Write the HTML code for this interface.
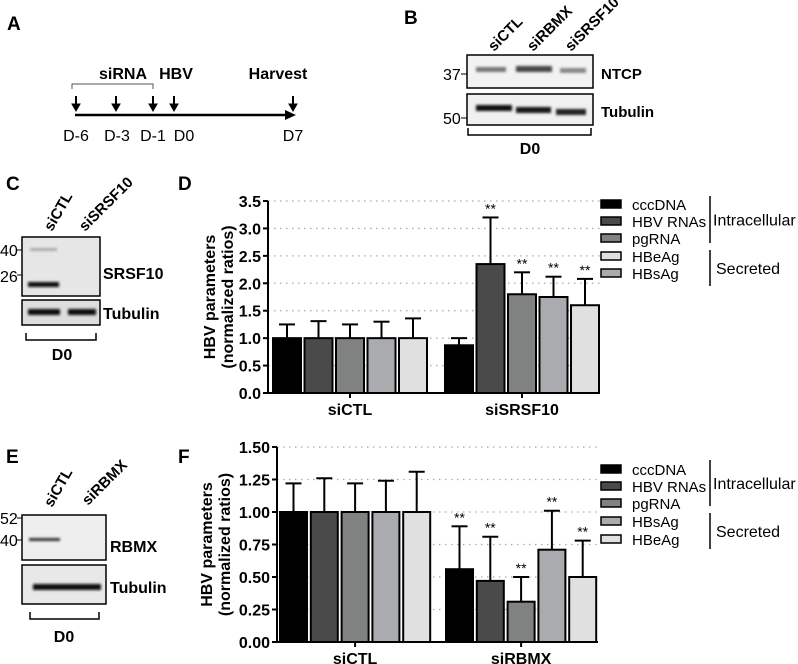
<!DOCTYPE html>
<html><head><meta charset="utf-8"><style>
body{margin:0;background:#fff}
svg{display:block;font-family:"Liberation Sans",Arial,sans-serif}
.b{font-weight:bold}
</style></head><body>
<svg id="fig" width="798" height="664" viewBox="0 0 798 664">
<defs><filter id="blur"><feGaussianBlur stdDeviation="1.2"/></filter></defs>
<g>
<text x="7" y="30" class="b" font-size="19">A</text>
<text x="123" y="79" class="b" font-size="16" text-anchor="middle">siRNA</text>
<text x="176" y="79" class="b" font-size="16" text-anchor="middle">HBV</text>
<text x="278" y="79" class="b" font-size="16" text-anchor="middle">Harvest</text>
<path d="M72 89 V84 H153 V89" fill="none" stroke="#555" stroke-width="1"/>
<line x1="75" y1="115" x2="287" y2="115" stroke="#000" stroke-width="2.5"/>
<polygon points="285,110 296,115 285,120" fill="#000"/>
<g fill="#000" stroke="#000">
<line x1="76" y1="96" x2="76" y2="106" stroke-width="2"/><polygon points="72,104 80,104 76,111"/>
<line x1="116" y1="96" x2="116" y2="106" stroke-width="2"/><polygon points="112,104 120,104 116,111"/>
<line x1="153" y1="96" x2="153" y2="106" stroke-width="2"/><polygon points="149,104 157,104 153,111"/>
<line x1="174" y1="96" x2="174" y2="106" stroke-width="2"/><polygon points="170,104 178,104 174,111"/>
<line x1="293" y1="96" x2="293" y2="106" stroke-width="2"/><polygon points="289,104 297,104 293,111"/>
</g>
<g font-size="16">
<text x="76" y="141" text-anchor="middle">D-6</text>
<text x="117" y="141" text-anchor="middle">D-3</text>
<text x="153" y="141" text-anchor="middle">D-1</text>
<text x="184" y="141" text-anchor="middle">D0</text>
<text x="293" y="141" text-anchor="middle">D7</text>
</g>
</g>
<g>
<text x="404" y="24" class="b" font-size="19">B</text>
<g class="b" font-size="15">
<text transform="translate(494,52) rotate(-45)">siCTL</text>
<text transform="translate(533,52) rotate(-45)">siRBMX</text>
<text transform="translate(571,52) rotate(-45)">siSRSF10</text>
</g>
<rect x="467" y="55" width="126" height="33" fill="#f2f2f2" stroke="#000" stroke-width="1.5"/>
<rect x="467" y="94" width="126" height="31" fill="#f0f0f0" stroke="#000" stroke-width="1.5"/>
<g filter="url(#blur)">
<rect x="476" y="67" width="30" height="5" fill="#777"/>
<rect x="516" y="66" width="36" height="6" fill="#444"/>
<rect x="560" y="68" width="26" height="5" fill="#888"/>
<rect x="476" y="105" width="36" height="6" fill="#111"/>
<rect x="516" y="107" width="35" height="6" fill="#151515"/>
<rect x="556" y="109" width="30" height="6" fill="#222"/>
</g>
<text x="443" y="80" font-size="16">37</text><line x1="461" y1="74" x2="467" y2="74" stroke="#000"/>
<text x="443" y="124" font-size="16">50</text><line x1="461" y1="118" x2="467" y2="118" stroke="#000"/>
<text x="601" y="79" class="b" font-size="15">NTCP</text>
<text x="601" y="117" class="b" font-size="15">Tubulin</text>
<path d="M468 128 V135 H591 V128" fill="none" stroke="#000" stroke-width="1.5"/>
<text x="530" y="154" class="b" font-size="16" text-anchor="middle">D0</text>
</g>
<g>
<text x="6" y="190" class="b" font-size="19">C</text>
<g class="b" font-size="15">
<text transform="translate(52,232) rotate(-60)">siCTL</text>
<text transform="translate(85,232) rotate(-45)">siSRSF10</text>
</g>
<rect x="22" y="237" width="78" height="59" fill="#e6e6e6" stroke="#000" stroke-width="1.5"/>
<rect x="22" y="300" width="78" height="25" fill="#ddd" stroke="#000" stroke-width="1.5"/>
<g filter="url(#blur)">
<rect x="30" y="248" width="27" height="3" fill="#aaa"/>
<rect x="28" y="282" width="31" height="5" fill="#111"/>
<rect x="28" y="309" width="32" height="6" fill="#111"/>
<rect x="68" y="309" width="28" height="6" fill="#111"/>
</g>
<text x="0" y="256" font-size="16">40</text><line x1="17" y1="250" x2="22" y2="250" stroke="#000"/>
<text x="0" y="282" font-size="16">26</text><line x1="17" y1="275" x2="22" y2="275" stroke="#000"/>
<text x="103" y="279" class="b" font-size="16">SRSF10</text>
<text x="103" y="319" class="b" font-size="16">Tubulin</text>
<path d="M26 333 V340 H96 V333" fill="none" stroke="#000" stroke-width="1.5"/>
<text x="62" y="360" class="b" font-size="16" text-anchor="middle">D0</text>
</g>
<g>
<text x="6" y="463" class="b" font-size="19">E</text>
<g class="b" font-size="15">
<text transform="translate(52,508) rotate(-60)">siCTL</text>
<text transform="translate(88,506) rotate(-45)">siRBMX</text>
</g>
<rect x="22" y="515" width="84" height="45" fill="#eee" stroke="#000" stroke-width="1.5"/>
<rect x="22" y="565" width="84" height="39" fill="#e8e8e8" stroke="#000" stroke-width="1.5"/>
<g filter="url(#blur)">
<rect x="29" y="538" width="31" height="3" fill="#333"/>
<rect x="33" y="584" width="37" height="6" fill="#111"/>
<rect x="70" y="584" width="31" height="6" fill="#111"/>
</g>
<text x="0" y="524" font-size="16">52</text><line x1="17" y1="518" x2="22" y2="518" stroke="#000"/>
<text x="0" y="546" font-size="16">40</text><line x1="17" y1="540" x2="22" y2="540" stroke="#000"/>
<text x="110" y="552" class="b" font-size="16">RBMX</text>
<text x="110" y="593" class="b" font-size="16">Tubulin</text>
<path d="M30 612 V619 H99 V612" fill="none" stroke="#000" stroke-width="1.5"/>
<text x="64" y="642" class="b" font-size="16" text-anchor="middle">D0</text>
</g>
<text x="178" y="190" class="b" font-size="19">D</text>
<text x="178" y="463" class="b" font-size="19">F</text>
<g id="chartD"></g>
<g id="chartF"></g>
</svg>
<script>
const groupsD = ["siCTL", "siSRSF10"];
const seriesD = ["cccDNA", "HBV RNAs", "pgRNA", "HBeAg", "HBsAg"];
const valuesD = [[1,1,1,1,1],[0.87,2.35,1.8,1.75,1.6]];
const errorsD = [[1.25,1.31,1.25,1.3,1.36],[1.0,3.2,2.2,2.12,2.08]];
const starsD = [[0,0,0,0,0],[0,1,1,1,1]];
const ticksD = ["0.0","0.5","1.0","1.5","2.0","2.5","3.0","3.5"];

const groupsF = ["siCTL", "siRBMX"];
const seriesF = ["cccDNA", "HBV RNAs", "pgRNA", "HBsAg", "HBeAg"];
const valuesF = [[1,1,1,1,1],[0.56,0.47,0.31,0.71,0.5]];
const errorsF = [[1.22,1.26,1.22,1.24,1.31],[0.89,0.81,0.5,1.01,0.78]];
const starsF = [[0,0,0,0,0],[1,1,1,1,1]];
const ticksF = ["0.00","0.25","0.50","0.75","1.00","1.25","1.50"];

const NS="http://www.w3.org/2000/svg";
function mk(parent,tag,attrs,txt){const e=document.createElementNS(NS,tag);for(const k in attrs)e.setAttribute(k,attrs[k]);if(txt!=null)e.textContent=txt;parent.appendChild(e);return e;}

function drawChart(g,cfg){
  const yScale=v=>cfg.y0-(v/cfg.ymax)*(cfg.y0-cfg.y1);
  cfg.ticks.forEach(t=>{
    const y=yScale(parseFloat(t));
    if(parseFloat(t)>0){const gl=mk(g,"line",{x1:cfg.ax,x2:cfg.xEnd,y1:y,y2:y,stroke:"#aaa","stroke-width":1.3,"stroke-dasharray":"1.5 4.5"});
    
    }
    mk(g,"line",{x1:cfg.ax-5,x2:cfg.ax,y1:y,y2:y,stroke:"#000","stroke-width":2});
    const tl=mk(g,"text",{x:cfg.ax-7,y:y+6,"text-anchor":"end","font-size":16,"font-weight":"bold"},t);
    
    
  });
  cfg.groups.forEach((gname,gi)=>{
    const gx=cfg.gx[gi];
    cfg.values[gi].forEach((v,si)=>{
      const x=gx+si*cfg.step, y=yScale(v), ye=yScale(cfg.errors[gi][si]);
      const cx=x+cfg.bw/2;
      mk(g,"line",{x1:cx,x2:cx,y1:y,y2:ye,stroke:"#000","stroke-width":2});
      mk(g,"line",{x1:cx-8,x2:cx+8,y1:ye,y2:ye,stroke:"#000","stroke-width":2});
      const r=mk(g,"rect",{x:x,y:y,width:cfg.bw,height:cfg.y0-y,fill:cfg.colors[si],stroke:"#000","stroke-width":2});
      
      
      if(cfg.stars[gi][si]){mk(g,"text",{x:cx,y:ye-4,"text-anchor":"middle","font-size":14},"**");}
    });
    const gl=mk(g,"text",{x:gx+2*cfg.step+cfg.bw/2,y:cfg.y0+22,"text-anchor":"middle","font-size":16,"font-weight":"bold"},gname);
    
    
    mk(g,"line",{x1:gx+2*cfg.step+cfg.bw/2,x2:gx+2*cfg.step+cfg.bw/2,y1:cfg.y0,y2:cfg.y0+5,stroke:"#000","stroke-width":2});
  });
  mk(g,"line",{x1:cfg.ax,x2:cfg.ax,y1:cfg.y1,y2:cfg.y0,stroke:"#000","stroke-width":2});
  mk(g,"line",{x1:cfg.ax,x2:cfg.xEnd,y1:cfg.y0,y2:cfg.y0,stroke:"#000","stroke-width":2});
  const ym=(cfg.y0+cfg.y1)/2;
  const t1=mk(g,"text",{transform:`translate(${cfg.tx1},${ym}) rotate(-90)`,"text-anchor":"middle","font-size":16,"font-weight":"bold"},"HBV parameters");
  
  
  mk(g,"text",{transform:`translate(${cfg.tx1+18},${ym}) rotate(-90)`,"text-anchor":"middle","font-size":16,"font-weight":"bold"},"(normalized ratios)");
  cfg.series.forEach((s,i)=>{
    const y=cfg.legY[i];
    mk(g,"rect",{x:601,y:y-4,width:20,height:8,fill:cfg.legColors[i],stroke:"#000","stroke-width":1.5});
    const lt=mk(g,"text",{x:632,y:y+6,"font-size":15},s);
    
    
  });
  mk(g,"line",{x1:710,x2:710,y1:cfg.b1[0],y2:cfg.b1[1],stroke:"#000","stroke-width":1.5});
  mk(g,"text",{x:713,y:(cfg.b1[0]+cfg.b1[1])/2+6,"font-size":16},"Intracellular");
  mk(g,"line",{x1:710,x2:710,y1:cfg.b2[0],y2:cfg.b2[1],stroke:"#000","stroke-width":1.5});
  mk(g,"text",{x:716,y:(cfg.b2[0]+cfg.b2[1])/2+6,"font-size":16},"Secreted");
}
drawChart(document.getElementById("chartD"),{
  groups:groupsD,series:seriesD,values:valuesD,errors:errorsD,stars:starsD,ticks:ticksD,
  ymax:3.5,y0:393,y1:201,ax:268,xEnd:600,gx:[273,445],step:31.5,bw:28,tx1:215,
  colors:["#000","#4a4a4a","#808282","#a9abae","#e0e0e0"],
  legColors:["#000","#4a4a4a","#808282","#e0e0e0","#a9abae"],
  legY:[204,221,238,256,273],b1:[196,243],b2:[250,286]});
drawChart(document.getElementById("chartF"),{
  groups:groupsF,series:seriesF,values:valuesF,errors:errorsF,stars:starsF,ticks:ticksF,
  ymax:1.5,y0:642,y1:447,ax:277,xEnd:598,gx:[280,446],step:30.8,bw:27,tx1:212,
  colors:["#000","#4a4a4a","#808282","#a9abae","#e0e0e0"],
  legColors:["#000","#4a4a4a","#808282","#a9abae","#e0e0e0"],
  legY:[469,486,503,521,539],b1:[460,506],b2:[513,549]});
</script>
</body></html>
